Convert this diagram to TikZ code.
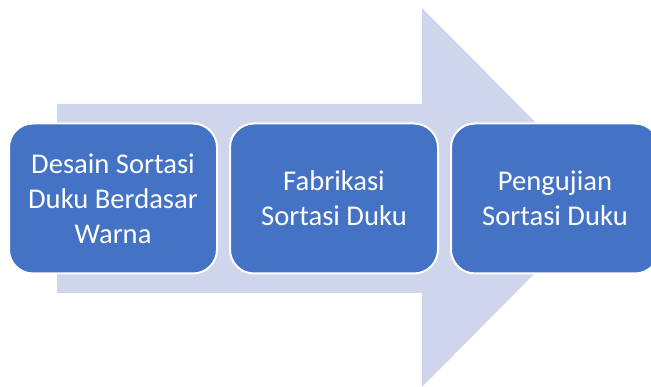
\documentclass[tikz,border=0pt]{standalone}
\usepackage{fontspec}
\setmainfont{Carlito}
\usepackage{xcolor}
\usetikzlibrary{positioning}
\definecolor{arrowbg}{HTML}{CFD5EA}
\definecolor{stepblue}{HTML}{4472C4}
\begin{document}
\begin{tikzpicture}[
  x=1pt, y=-1pt,
  n/.style={draw=white, fill=stepblue, line width=2pt, rounded corners=24pt,
    minimum width=208pt, minimum height=150pt, align=center, text=white,
    font=\fontsize{28.6}{35}\selectfont},
  bigarr/.style={fill=arrowbg}
]
\useasboundingbox (0,0) rectangle (651,387);
% background arrow
\coordinate (bl) at (57,104);
\coordinate (tip) at (610,197.5);
\fill[bigarr] (bl) -- (422,104) -- (422,8) -- (tip) -- (422,387) -- (422,293) -- (57,293) -- cycle;
% steps
\node[n] (desain) at (113,198.5) {Desain Sortasi\\ Duku Berdasar\\ Warna};
\node[n, right=11pt of desain] (fabrikasi) {Fabrikasi\\ Sortasi Duku};
\node[n, right=11pt of fabrikasi] (uji) {Pengujian\\ Sortasi Duku};
\end{tikzpicture}
\end{document}
